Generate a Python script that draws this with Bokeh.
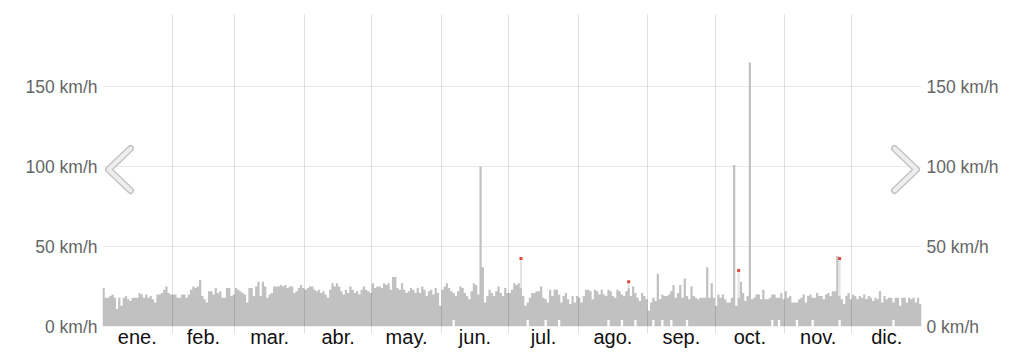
import numpy as np
from bokeh.plotting import figure
from bokeh.models import Range1d, FixedTicker, LinearAxis
from bokeh.embed import file_html
from bokeh.resources import INLINE

months = ["ene.", "feb.", "mar.", "abr.", "may.", "jun.", "jul.", "ago.", "sep.", "oct.", "nov.", "dic."]
month_days = [31, 28, 31, 30, 31, 30, 31, 31, 30, 31, 30, 31]

jan = [24,18,18,19,20,18,11,18,13,18,19,17,16,18,18,18,21,20,18,20,18,19,17,15,20,20,21,23,25,21,20]
feb = [20,20,18,18,20,20,18,20,23,25,24,25,29,19,17,15,22,22,20,24,21,22,18,18,24,24,19,20]
mar = [24,23,22,21,20,15,24,24,19,25,28,19,28,25,18,20,21,25,25,25,26,25,26,24,25,25,21,22,24,26,24]
apr = [23,24,25,25,23,22,23,21,22,20,18,23,27,25,27,25,22,20,23,21,25,23,21,22,20,23,25,23,22,21]
may = [27,24,25,25,24,27,26,27,23,31,31,24,23,27,23,21,22,24,23,21,24,21,25,23,19,22,23,20,24,21,13]
jun = [23,25,27,24,22,21,19,22,25,24,21,19,17,22,27,26,20,100,37,15,19,23,21,19,22,25,21,19,24,21]
jul = [21,23,27,26,27,24,19,13,15,18,21,21,22,22,25,18,17,15,23,19,23,23,20,15,19,21,17,14,19,15,19]
aug = [18,15,19,23,23,22,17,23,22,20,23,20,19,23,22,19,18,23,22,20,19,22,24,19,25,21,18,16,21,19,17]
sep = [10,15,18,16,33,17,20,19,19,20,22,26,18,21,26,18,30,19,17,25,19,18,17,18,18,18,37,18,27,18]
oct_ = [13,20,18,20,17,15,15,18,101,13,18,28,21,16,19,165,17,18,20,20,17,23,17,17,18,20,20,18,18,21,17]
nov = [22,18,19,15,15,15,17,18,20,15,19,20,18,18,21,19,19,17,20,21,19,22,22,44,19,17,14,19,21,17]
dec = [20,19,17,19,18,20,17,19,18,16,18,17,22,15,19,17,18,18,15,18,18,13,18,18,15,18,17,18,15,18,14]

# days (0-based day of year) whose lowest value is above zero, and that value
low_days = [156, 189, 197, 203, 225, 231, 237, 245, 249, 253, 260, 298, 301, 309, 316, 328, 352]
low_value = 4

# days with a marked gust and its value
gust_days = [186, 234, 283, 328]
gust_values = [42.5, 28, 35, 42.5]

tick_values = [0, 50, 100, 150]
tick_labels = ["0 km/h", "50 km/h", "100 km/h", "150 km/h"]

values = np.array(jan + feb + mar + apr + may + jun + jul + aug + sep + oct_ + nov + dec, dtype=float)
n_days = len(values)
days = np.arange(n_days)
lows = np.zeros(n_days)
lows[low_days] = low_value

bounds = list(np.cumsum([0] + month_days))
mids = [(bounds[i] + bounds[i + 1]) / 2 for i in range(12)]

p = figure(width=1024, height=356, x_range=Range1d(0, n_days), y_range=Range1d(0, 195),
           output_backend="svg", toolbar_location=None,
           min_border_left=102, min_border_right=103, min_border_top=14, min_border_bottom=30)
p.outline_line_color = None
p.background_fill_color = "white"
p.border_fill_color = "white"

# horizontal grid
p.ygrid.ticker = FixedTicker(ticks=tick_values)
p.ygrid.grid_line_color = "#e9e9e9"
p.ygrid.grid_line_width = 1

# vertical grid at month boundaries
p.xgrid.ticker = FixedTicker(ticks=bounds[1:-1])
p.xgrid.grid_line_color = "rgba(0,0,0,0.12)"
p.xgrid.level = "overlay"

# bars: one seamless stepped area, one step per day
bar_color = "#c1c1c1"
step_x = np.append(days, n_days)
step_lo = np.append(lows, lows[-1])
step_hi = np.append(values, values[-1])
p.varea_step(x=step_x, y1=step_lo, y2=step_hi, step_mode="after", fill_color=bar_color)

# gust markers
gd = np.array(gust_days)
p.segment(x0=gd + 0.5, y0=values[gd], x1=gd + 0.5, y1=gust_values, line_color="#e4e4e4", line_width=2)
p.scatter(x=gd + 0.5, y=gust_values, marker="square", size=3, fill_color="#e0473f", line_color=None)

# x axis: month labels centred, boundary ticks
xa = p.xaxis[0]
xa.ticker = FixedTicker(ticks=mids, minor_ticks=bounds[1:-1])
xa.major_label_overrides = {m: name for m, name in zip(mids, months)}
xa.axis_line_color = None
xa.major_tick_line_color = None
xa.major_tick_out = 0
xa.major_tick_in = 0
xa.minor_tick_line_color = "rgba(0,0,0,0.12)"
xa.minor_tick_out = 7
xa.minor_tick_in = 0
xa.major_label_standoff = -8
xa.major_label_text_font = "Liberation Sans"
xa.major_label_text_font_size = "20px"
xa.major_label_text_color = "#111111"

# y axes left and right
def style_y(ax):
    ax.ticker = FixedTicker(ticks=tick_values)
    ax.major_label_overrides = {v: t for v, t in zip(tick_values, tick_labels)}
    ax.axis_line_color = None
    ax.major_tick_line_color = None
    ax.minor_tick_line_color = None
    ax.major_tick_out = 0
    ax.major_tick_in = 0
    ax.major_label_standoff = 5
    ax.major_label_text_font = "Liberation Sans"
    ax.major_label_text_font_size = "17.5px"
    ax.major_label_text_color = "#666666"

style_y(p.yaxis[0])
ry = LinearAxis()
style_y(ry)
p.add_layout(ry, "right")

# navigation chevrons (decorative)
px_per_day = (921 - 102) / n_days
def to_x(px):
    return (px - 102) / px_per_day
def to_y(py):
    return (326 - py) / 1.6

left_xs = [to_x(130), to_x(108), to_x(130)]
right_xs = [to_x(894), to_x(916), to_x(894)]
ch_ys = [to_y(148), to_y(169), to_y(190)]
for xs in (left_xs, right_xs):
    p.line(xs, ch_ys, line_color="#c4c4c4", line_width=7, line_cap="round", line_join="round")
    p.line(xs, ch_ys, line_color="#eeeeee", line_width=4, line_cap="round", line_join="round")

open("out.html", "w").write(file_html(p, INLINE))
